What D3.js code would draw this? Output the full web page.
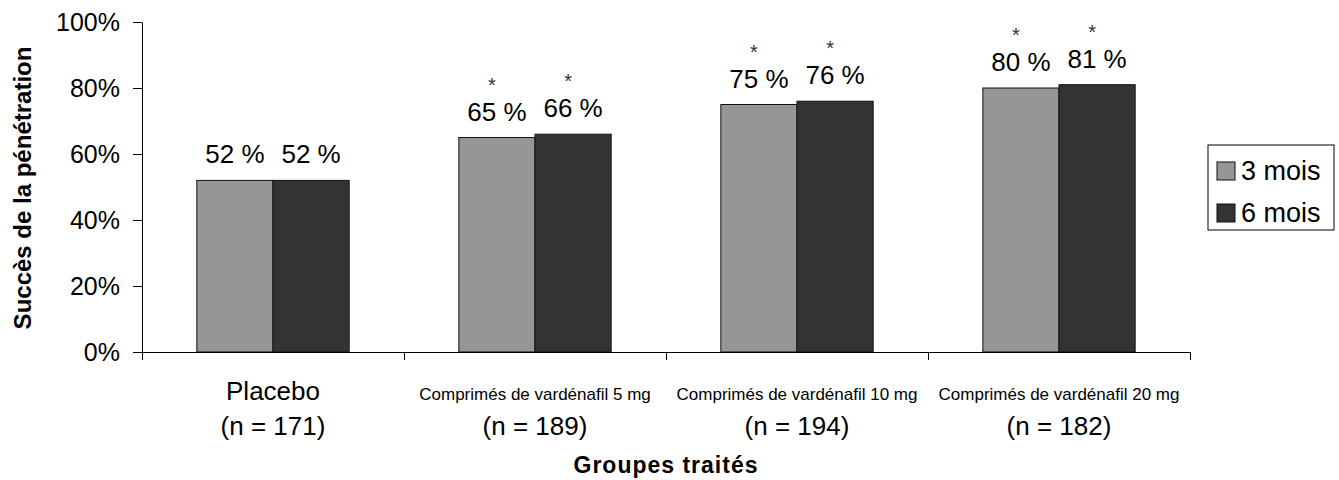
<!DOCTYPE html>
<html>
<head>
<meta charset="utf-8">
<script src="https://cdn.jsdelivr.net/npm/d3@7"></script>
<style>
  body { margin: 0; background: #fff; }
  text { font-family: "Liberation Sans", Arial, sans-serif; fill: #000; }
</style>
</head>
<body>
<svg id="chart" width="1339" height="480"></svg>
<script>
//Chart data.
let groups = ['Placebo', 'Comprimés de vardénafil 5 mg', 'Comprimés de vardénafil 10 mg', 'Comprimés de vardénafil 20 mg'];
let groupN = [171, 189, 194, 182];
let seriesNames = ['3 mois', '6 mois'];
let values3 = [52, 65, 75, 80];
let values6 = [52, 66, 76, 81];
let significant = [false, true, true, true];
let yTicks = [0, 20, 40, 60, 80, 100];
let seriesColors = ['#969696', '#333333'];

let svg = d3.select('#chart');

//Plot area bounds.
let plotLeft = 142, plotRight = 1190, plotTop = 22, plotBottom = 352;

let x = d3.scaleBand()
  .domain(groups)
  .range([plotLeft, plotRight])
  .padding(0);

let xInner = d3.scaleBand()
  .domain(seriesNames)
  .range([0, x.bandwidth()])
  .paddingInner(0)
  .paddingOuter(0.72);

let y = d3.scaleLinear()
  .domain([0, 100])
  .range([plotBottom, plotTop]);

//Flatten the two series into one list of bars.
let bars = [];
groups.forEach((g, i) => {
  bars.push({group: g, series: seriesNames[0], value: values3[i], star: significant[i], color: seriesColors[0]});
  bars.push({group: g, series: seriesNames[1], value: values6[i], star: significant[i], color: seriesColors[1]});
});

//Draw the bars.
svg.append('g').selectAll('rect')
  .data(bars)
  .join('rect')
  .attr('x', d => x(d.group) + xInner(d.series))
  .attr('y', d => y(d.value))
  .attr('width', xInner.bandwidth())
  .attr('height', d => y(0) - y(d.value))
  .attr('fill', d => d.color)
  .attr('stroke', '#111')
  .attr('stroke-width', 1);

//Value labels above each bar.
svg.append('g').selectAll('text')
  .data(bars)
  .join('text')
  .attr('x', d => x(d.group) + xInner(d.series) + xInner.bandwidth() / 2)
  .attr('y', d => y(d.value) - 17)
  .attr('text-anchor', 'middle')
  .style('font-size', '26px')
  .text(d => d.value + ' %');

//Asterisks for the significant groups.
svg.append('g').selectAll('text')
  .data(bars.filter(d => d.star))
  .join('text')
  .attr('x', d => x(d.group) + xInner(d.series) + xInner.bandwidth() / 2 - 5)
  .attr('y', d => y(d.value) - 46)
  .attr('text-anchor', 'middle')
  .style('font-size', '20px')
  .style('fill', '#333')
  .text('*');

//Y axis.
let yAxis = d3.axisLeft(y)
  .tickValues(yTicks)
  .tickFormat(d => d + '%')
  .tickSize(9)
  .tickSizeOuter(0)
  .tickPadding(13);

let yg = svg.append('g')
  .attr('transform', 'translate(' + plotLeft + ',0)')
  .call(yAxis);
yg.selectAll('text').style('font-size', '25px').attr('dy', '0.35em');
yg.selectAll('line, path').attr('stroke', '#000');

//X axis: ticks sit on the group boundaries.
let xEdges = d3.scaleLinear().domain([0, groups.length]).range([plotLeft, plotRight]);
let xg = svg.append('g')
  .attr('transform', 'translate(0,' + plotBottom + ')')
  .call(d3.axisBottom(xEdges).tickValues(d3.range(groups.length + 1)).tickFormat('').tickSize(8).tickSizeOuter(0));
xg.selectAll('line, path').attr('stroke', '#000');

//Category labels, two lines each.
let cats = svg.append('g').selectAll('g')
  .data(groups)
  .join('g')
  .attr('transform', d => 'translate(' + (x(d) + x.bandwidth() / 2) + ',0)');

cats.append('text')
  .attr('y', 400)
  .attr('text-anchor', 'middle')
  .style('font-size', (d, i) => i == 0 ? '26px' : '17px')
  .text(d => d);

cats.append('text')
  .attr('y', 435)
  .attr('text-anchor', 'middle')
  .style('font-size', '26px')
  .text((d, i) => '(n = ' + groupN[i] + ')');

//Axis titles.
svg.append('text')
  .attr('transform', 'translate(31,188)rotate(-90)')
  .attr('text-anchor', 'middle')
  .style('font-size', '24px')
  .style('font-weight', 'bold')
  .text('Succès de la pénétration');

svg.append('text')
  .attr('x', (plotLeft + plotRight) / 2)
  .attr('y', 473)
  .attr('text-anchor', 'middle')
  .style('font-size', '23px')
  .style('font-weight', 'bold')
  .style('letter-spacing', '1px')
  .text('Groupes traités');

//Legend.
let legend = svg.append('g').attr('transform', 'translate(1208,145)');
legend.append('rect')
  .attr('width', 126)
  .attr('height', 85)
  .attr('fill', '#fff')
  .attr('stroke', '#000');

let items = legend.selectAll('g.item')
  .data(seriesNames)
  .join('g')
  .attr('class', 'item')
  .attr('transform', (d, i) => 'translate(9,' + (26 + i * 42) + ')');

items.append('rect')
  .attr('x', 0)
  .attr('y', -9)
  .attr('width', 18)
  .attr('height', 18)
  .attr('fill', (d, i) => seriesColors[i])
  .attr('stroke', '#111');

items.append('text')
  .attr('x', 24)
  .attr('dy', '0.35em')
  .style('font-size', '27px')
  .text(d => d);
</script>
</body>
</html>
